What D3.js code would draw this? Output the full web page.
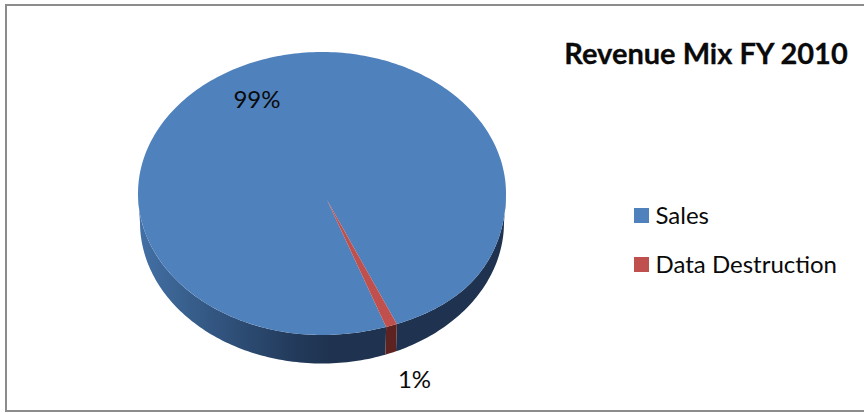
<!DOCTYPE html>
<html>
<head>
<meta charset="utf-8">
<script src="https://cdn.jsdelivr.net/npm/d3@7"></script>
<style>
html, body { margin: 0; padding: 0; background: #fff; }
svg { display: block; }
text { font-family: Lato, "Open Sans", sans-serif; fill: #0a0a0a; }
</style>
</head>
<body>
<svg id="chart" width="864" height="413"></svg>
<script>
const categories = ["Sales", "Data Destruction"];
const values = [99, 1];
const valueLabels = ["99%", "1%"];
const topColors = ["#4f81bd", "#c0504d"];
const chartTitle = "Revenue Mix FY 2010";

const svg = d3.select("#chart");

/* frame, open on the right like the source crop */
svg.append("path")
	.attr("d", "M864,5H6V411H864")
	.attr("fill", "none")
	.attr("stroke", "#8c8c8c")
	.attr("stroke-width", 2);

/* pie geometry */
const cx = 322, cy = 193.5, rx = 184, ry = 141.5;
const hub = { x: 327, y: 200 };
const depth = 29, bottomRx = 182, bottomRy = 141;
const bulge = 20;

const firstAngle = 159.6 * Math.PI / 180;
const slices = d3.pie().sort(null)
	.startAngle(firstAngle)
	.endAngle(firstAngle + 2 * Math.PI)(values);

/* the 3D perspective pushes the lower right rim down a little */
const rimShift = (a) => {
	const s = Math.sin(a), c = Math.cos(a);
	return s > 0 && c < 0 ? -bulge * s * s * s * c : 0;
};
const topPoint = (a) => [cx + rx * Math.sin(a), cy - ry * Math.cos(a) + rimShift(a)];
const bottomPoint = (a) => [cx + bottomRx * Math.sin(a), cy + depth - bottomRy * Math.cos(a)];

const samples = (a0, a1) => {
	const n = Math.max(2, Math.ceil(Math.abs(a1 - a0) / 0.02));
	return d3.range(n + 1).map((i) => a0 + (a1 - a0) * i / n);
};
const line = d3.line();

/* side wall gradients */
const defs = svg.append("defs");
const wallStops = [
	[[0, "#4370a6"], [0.1, "#3b6493"], [0.25, "#2f5079"], [0.42, "#233b5c"], [0.52, "#1f3350"], [1, "#1f3350"]],
	[[0, "#5e2320"], [1, "#5e2320"]]
];
wallStops.forEach((stops, i) => {
	const g = defs.append("linearGradient")
		.attr("id", "wall" + i)
		.attr("gradientUnits", "userSpaceOnUse")
		.attr("x1", cx - rx).attr("x2", cx + rx)
		.attr("y1", 0).attr("y2", 0);
	g.selectAll("stop").data(stops).join("stop")
		.attr("offset", (d) => d[0])
		.attr("stop-color", (d) => d[1]);
});

/* wall only exists on the front half (90 to 270 deg) */
const front = [Math.PI / 2, 3 * Math.PI / 2];
const wallRange = (s) => {
	const parts = [];
	for (const shift of [0, 2 * Math.PI]) {
		const a0 = Math.max(s.startAngle, front[0] + shift);
		const a1 = Math.min(s.endAngle, front[1] + shift);
		if (a1 > a0) parts.push([a0, a1]);
	}
	return parts;
};

const wallGroup = svg.append("g");
slices.forEach((s, i) => {
	wallRange(s).forEach(([a0, a1]) => {
		const outer = samples(a0, a1);
		const pts = outer.map(topPoint).concat(outer.slice().reverse().map(bottomPoint));
		wallGroup.append("path")
			.attr("d", line(pts) + "Z")
			.attr("fill", `url(#wall${i})`);
	});
});

/* top face */
const topGroup = svg.append("g");
slices.forEach((s, i) => {
	const pts = [[hub.x, hub.y]].concat(samples(s.startAngle, s.endAngle).map(topPoint));
	topGroup.append("path")
		.attr("d", line(pts) + "Z")
		.attr("fill", topColors[i]);
});

/* data labels */
const labelPos = [[257, 108], [414.5, 388]];
svg.selectAll(".label").data(valueLabels).join("text")
	.attr("class", "label")
	.attr("x", (d, i) => labelPos[i][0])
	.attr("y", (d, i) => labelPos[i][1])
	.attr("text-anchor", "middle")
	.attr("font-size", 24)
	.text((d) => d);

/* title */
svg.append("text")
	.attr("x", 706)
	.attr("y", 64)
	.attr("text-anchor", "middle")
	.attr("font-size", 29)
	.attr("font-weight", 700)
	.attr("stroke", "#0a0a0a")
	.attr("stroke-width", 0.3)
	.text(chartTitle);

/* legend */
const legendY = d3.scalePoint().domain(categories).range([215.5, 264.5]);
const legend = svg.selectAll(".legend").data(categories).join("g")
	.attr("class", "legend")
	.attr("transform", (d) => `translate(634,${legendY(d)})`);
legend.append("rect")
	.attr("y", -7.5)
	.attr("width", 15)
	.attr("height", 15)
	.attr("fill", (d, i) => topColors[i]);
legend.append("text")
	.attr("x", 21.5)
	.attr("y", 8)
	.attr("font-size", 24)
	.text((d) => d);
</script>
</body>
</html>
